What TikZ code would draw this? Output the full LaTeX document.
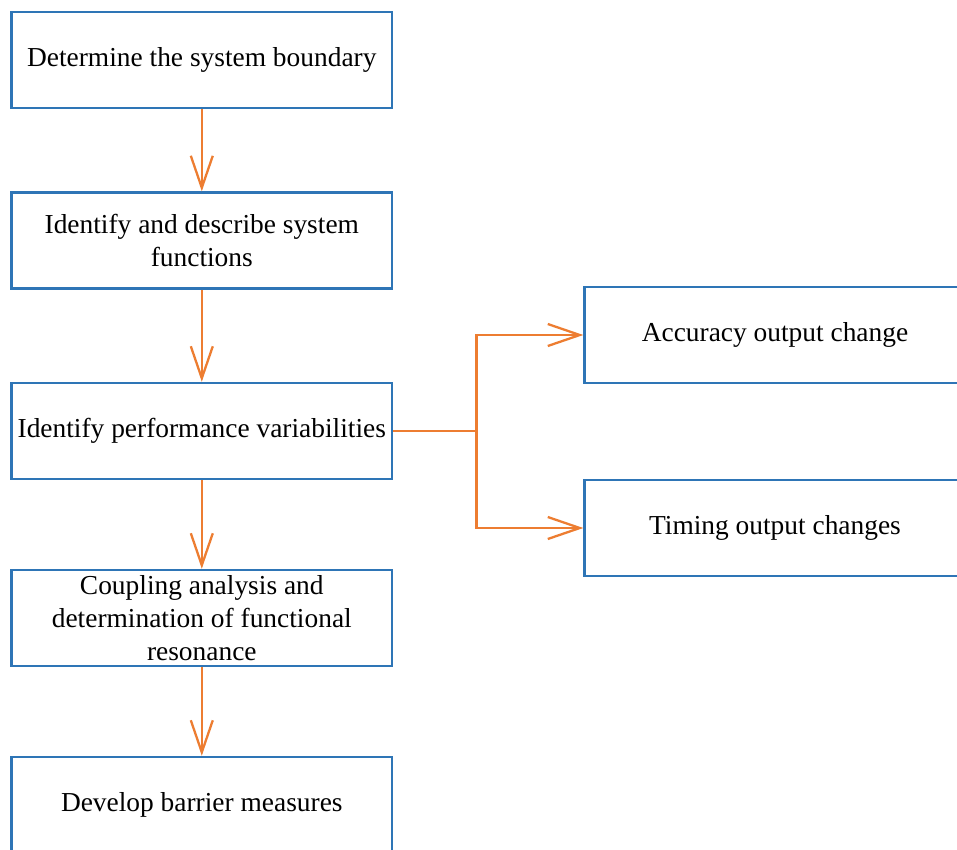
\documentclass[tikz,border=0pt]{standalone}
\usepackage{fontspec}
\setmainfont{Liberation Serif}
\usetikzlibrary{arrows.meta}
\definecolor{boxblue}{RGB}{46,117,182}
\definecolor{flowor}{RGB}{237,125,49}
\begin{document}
\begin{tikzpicture}[x=0.02cm,y=-0.02cm,
    box/.style={draw=boxblue,line width=1.4pt,fill=white,minimum width=7.62cm,
      minimum height=1.92cm,align=center,inner sep=2pt,
      font=\fontsize{15.6}{18.7}\selectfont},
    flow/.style={draw=flowor,line width=1.3pt,
      -{Straight Barb[length=0.64cm,width=0.44cm]}}]
    \useasboundingbox (0,0) rectangle (957,849);
    \clip (0,0) rectangle (957,849);
    \fill [white] (0,0) rectangle (957,849);
    % left column
    \node [box] (bound) at (201.8,60) {Determine the system boundary};
    \node [box] (funcs) at (201.8,240.5) {Identify and describe system\\functions};
    \node [box] (perf) at (201.8,431) {Identify performance variabilities};
    \node [box] (coupl) at (201.8,618) {Coupling analysis and\\determination of functional\\resonance};
    \node [box] (barr) at (201.8,805) {Develop barrier measures};
    % right column
    \node [box] (acc) at (775,335) {Accuracy output change};
    \node [box] (tim) at (775,528) {Timing output changes};
    % connectors
    \draw [flow] (bound) -- (funcs);
    \draw [flow] (funcs) -- (perf);
    \draw [flow] (perf) -- (coupl);
    \draw [flow] (coupl) -- (barr);
    \draw [flow] (perf.east) -- ++(83,0) |- (acc.west);
    \draw [flow] (perf.east) -- ++(83,0) |- (tim.west);
\end{tikzpicture}
\end{document}
